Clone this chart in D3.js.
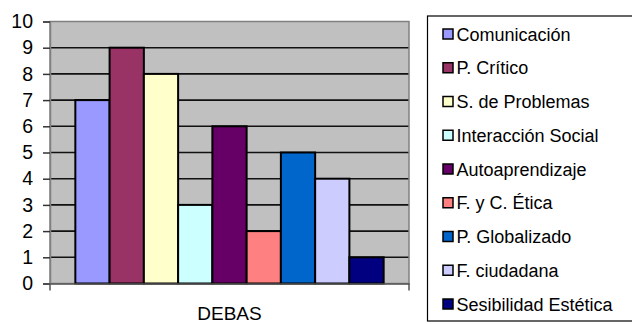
<!DOCTYPE html>
<html><head><meta charset="utf-8">
<script src="https://cdn.jsdelivr.net/npm/d3@7"></script>
<style>body{margin:0;background:#fff}svg{display:block}text{font-family:"Liberation Sans",Arial,sans-serif}</style>
</head><body>
<svg id="c" width="632" height="324"></svg>
<script>
const categories = ["DEBAS"];
const seriesNames = ["Comunicación","P. Crítico","S. de Problemas","Interacción Social","Autoaprendizaje","F. y C. Ética","P. Globalizado","F. ciudadana","Sesibilidad Estética"];
const seriesValues = [7,9,8,3,6,2,5,4,1];
const seriesColors = ["#9999FF","#993366","#FFFFCC","#CCFFFF","#660066","#FF8080","#0066CC","#CCCCFF","#000080"];
const yTicks = [0,1,2,3,4,5,6,7,8,9,10];

const svg = d3.select("#c");
const L = 50, R = 409, T = 21.5, B = 283.5;
const y = d3.scaleLinear().domain([0,10]).range([B,T]);
const x0 = d3.scaleBand().domain(categories).range([L,R]).paddingInner(0).paddingOuter(0.0822);
const x1 = d3.scaleBand().domain(seriesNames).range([0,x0.bandwidth()]);

svg.append("rect").attr("x",L).attr("y",T).attr("width",R-L).attr("height",B-T).attr("fill","#C0C0C0");

// gridlines
svg.append("g").selectAll("line").data(yTicks.filter(d=>d>0&&d<10)).join("line")
  .attr("x1",L).attr("x2",R).attr("y1",d=>y(d)).attr("y2",d=>y(d))
  .attr("stroke","#111").attr("stroke-width",1.6);
// plot border
svg.append("rect").attr("x",L).attr("y",T).attr("width",R-L).attr("height",B-T)
  .attr("fill","none").attr("stroke","#808080").attr("stroke-width",1.5);

// bars
const g = svg.append("g").attr("transform",`translate(${x0("DEBAS")},0)`);
g.selectAll("rect").data(seriesNames).join("rect")
  .attr("x",(d)=>x1(d)).attr("width",x1.bandwidth())
  .attr("y",(d,i)=>y(seriesValues[i])).attr("height",(d,i)=>y(0)-y(seriesValues[i]))
  .attr("fill",(d,i)=>seriesColors[i]).attr("stroke","#000").attr("stroke-width",2);

// y axis
const yAxis = d3.axisLeft(y).tickValues(yTicks).tickSize(7).tickPadding(10).tickFormat(d3.format("d"));
const ya = svg.append("g").attr("transform",`translate(${L},0)`).call(yAxis);
ya.select(".domain").attr("stroke","#808080").attr("stroke-width",1.5);
ya.selectAll(".tick line").attr("stroke","#333").attr("stroke-width",1.5);
ya.selectAll("text").attr("font-size",19.5).attr("fill","#000").attr("font-family","Liberation Sans, Arial, sans-serif");

// x axis
const xAxis = d3.axisBottom(x0).tickSize(0).tickPadding(23);
const xa = svg.append("g").attr("transform",`translate(0,${B})`).call(xAxis);
xa.select(".domain").attr("stroke","#555").attr("stroke-width",1.5);
xa.selectAll("text").attr("font-size",19).attr("fill","#000").attr("font-family","Liberation Sans, Arial, sans-serif");
svg.append("g").selectAll("line").data([L,R]).join("line")
  .attr("x1",d=>d).attr("x2",d=>d).attr("y1",B).attr("y2",B+7).attr("stroke","#555").attr("stroke-width",1.5);

// legend
svg.append("rect").attr("x",427.5).attr("y",16).attr("width",220).attr("height",305)
  .attr("fill","#fff").attr("stroke","#000").attr("stroke-width",1.2);
const lg = svg.append("g").selectAll("g").data(seriesNames).join("g")
  .attr("transform",(d,i)=>`translate(443,${34+i*33.75})`);
lg.append("rect").attr("x",0).attr("y",-5).attr("width",10).attr("height",10)
  .attr("fill",(d,i)=>seriesColors[i]).attr("stroke","#000").attr("stroke-width",1.5);
lg.append("text").attr("x",13.5).attr("y",6.5).attr("font-size",18).attr("fill","#000").text(d=>d);
</script>
</body></html>
